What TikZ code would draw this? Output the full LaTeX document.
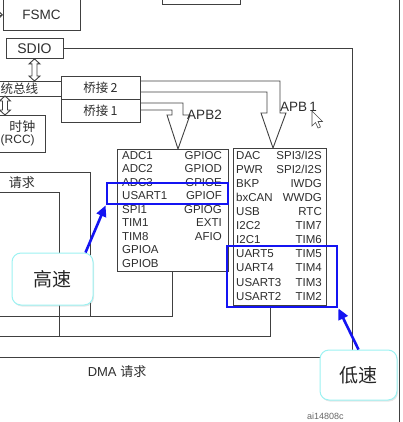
\documentclass[tikz,border=0pt]{standalone}
\usepackage{fontspec}
\setmainfont{Liberation Sans}
\newfontfamily\cjk{Noto Sans CJK SC}
\usepackage{xcolor}
\usetikzlibrary{arrows.meta,shadows,calc}
\definecolor{linegray}{HTML}{404040}
\definecolor{textgray}{HTML}{2E2E2E}
\definecolor{markblue}{HTML}{1414F2}
\definecolor{calloutcyan}{HTML}{9CF2F2}
\tikzset{
	wire/.style = {draw=linegray, line width=0.9pt},
	unitbox/.style = {draw=linegray, line width=0.9pt, fill=white, inner sep=0pt, text=textgray},
	regname/.style = {inner sep=0pt, text=textgray, font=\fontsize{11.5}{12}\selectfont},
	busname/.style = {inner sep=0pt, text=textgray, font=\fontsize{13}{14}\selectfont},
	markbox/.style = {draw=markblue, line width=2.8pt, inner sep=0pt},
	markarrow/.style = {draw=markblue, line width=2.6pt, -{Triangle[length=11pt,width=10pt]}},
	callout/.style = {draw=calloutcyan, line width=1pt, fill=white, rounded corners=9pt, inner sep=0pt,
		text=black!85, font=\cjk\fontsize{19}{20}\selectfont,
		drop shadow={opacity=0.2, shadow xshift=1pt, shadow yshift=-1.5pt}}
}
\newcommand{\hollowarrow}[2]{%
	\draw[wire, fill=white] (#1) -- ++(5.5,5) -- ++(-3,0) -- ($(#2)+(2.5,-5)$) -- ++(3,0) -- (#2)
		-- ++(-5.5,-5) -- ++(3,0) -- ($(#1)+(-2.5,5)$) -- ++(-3,0) -- cycle;}

\begin{document}
\begin{tikzpicture}[x=1pt, y=-1pt]
	\useasboundingbox (0,0) rectangle (402,422);
	\draw[wire] (162,-10) rectangle (240,4);
	\draw[wire] (399,-5) -- (399,427);

	\draw[wire] (3,-10) rectangle (80,30);
	\node[busname, font=\fontsize{13.5}{14}\selectfont] (fsmc) at (41.5,15) {FSMC};
	\coordinate (fsmcin) at (-6,15);
	\coordinate (fsmcleft) at (3,15);
	\draw[wire, -{Straight Barb[length=3pt]}] (fsmcin) -- (fsmcleft);

	\node[unitbox, minimum width=57pt, minimum height=20pt, font=\fontsize{14}{15}\selectfont] (sdio) at (34.5,48.5) {SDIO};
	\node[unitbox, minimum width=79pt, minimum height=23pt, font=\cjk\fontsize{12.5}{13}\selectfont] (bridgeB) at (100.5,87.5) {桥接\,2};
	\node[unitbox, minimum width=79pt, minimum height=23pt, font=\cjk\fontsize{12.5}{13}\selectfont] (bridgeA) at (100.5,110.5) {桥接\,1};

	\coordinate (busA) at (-5,81);
	\coordinate (busB) at (-5,96);
	\draw[wire] (busA) -- (bridgeB.west |- busA);
	\draw[wire] (busB) -- (bridgeB.west |- busB);
	\node[busname, anchor=west, font=\cjk\fontsize{12.5}{13}\selectfont] (sysbus) at (0.5,88.5) {统总线};

	\draw[wire] (-10,115) rectangle (45,152);
	\node[busname, anchor=east, font=\cjk\fontsize{13}{14}\selectfont] (rccA) at (35.5,127) {时钟};
	\node[busname, anchor=west, font=\fontsize{12}{13}\selectfont] (rccB) at (0.5,140.5) {(RCC)};
	\coordinate (rccbus) at (5,96);
	\coordinate (rcctop) at (5,115);
	\hollowarrow{sdio.south}{sdio.south |- busA}
	\hollowarrow{rccbus}{rcctop}

	\coordinate (apbtwoA) at (140,103);
	\coordinate (apbtwoB) at (140,110);
	\coordinate (apbtwotip) at (178,149);
	\draw[wire] (apbtwoA) -- (183,103) -- (183,115) -- (190,115) -- (apbtwotip) -- (167,115) -- (172,115) -- (172,110) -- (apbtwoB);
	\node[busname, font=\fontsize{13.5}{14}\selectfont] (apbtwolabel) at (204.5,115) {APB2};

	\coordinate (apboneA) at (140,81);
	\coordinate (apboneB) at (140,92);
	\coordinate (apbonetip) at (273,148);
	\draw[wire] (apboneA) -- (280,81) -- (280,113) -- (286,113) -- (apbonetip) -- (261,113) -- (267,113) -- (267,92) -- (apboneB);
	\node[busname, font=\fontsize{13.5}{14}\selectfont] (apbonelabel) at (298.5,107) {APB\,1};
	\draw[black!70, fill=white, line width=0.6pt] (312,111) -- (312,126) -- (315.5,122.5) -- (318,128) -- (320.5,127) -- (318,121.5) -- (322.5,121.5) -- cycle;

	\node[unitbox, minimum width=111pt, minimum height=122pt] (apbtwo) at (172.5,210) {};
	\node[unitbox, minimum width=93pt, minimum height=157pt] (apbone) at (279.5,226.5) {};

	\foreach \reg [count=\i] in {ADC1,ADC2,ADC3,USART1,SPI1,TIM1,TIM8,GPIOA,GPIOB}
		\node[regname, anchor=base west] (twoL\i) at (122,145.6+13.5*\i) {\reg};
	\foreach \reg [count=\i] in {GPIOC,GPIOD,GPIOE,GPIOF,GPIOG,EXTI,AFIO}
		\node[regname, anchor=base east] (twoR\i) at (222,145.6+13.5*\i) {\reg};
	\foreach \reg [count=\i] in {DAC,PWR,BKP,bxCAN,USB,I2C2,I2C1,UART5,UART4,USART3,USART2}
		\node[regname, anchor=base west] (oneL\i) at (236,145+14.1*\i) {\reg};
	\foreach \reg [count=\i] in {SPI3/I2S,SPI2/I2S,IWDG,WWDG,RTC,TIM7,TIM6,TIM5,TIM4,TIM3,TIM2}
		\node[regname, anchor=base east] (oneR\i) at (322,145+14.1*\i) {\reg};

	\coordinate (dmaA) at (-5,172);
	\coordinate (dmaB) at (-5,192);
	\coordinate (apbonedrop) at (270,305);
	\draw[wire] (dmaA) -- (90,172) -- (90,316);
	\draw[wire] (apbtwo.south) -- (172.5,316) -- (-5,316);
	\draw[wire] (dmaB) -- (59,192) -- (59,336);
	\draw[wire] (apbonedrop) -- (270,336) -- (-5,336);
	\draw[wire] (sdio.east) -- (352,48.5) -- (352,357) -- (-5,357);
	\node[busname] (dmalabel) at (117,372) {DMA {\cjk 请求}};
	\node[busname, anchor=east, font=\cjk\fontsize{13}{14}\selectfont] (dmaleft) at (35,183) {请求};
	\node[inner sep=0pt, anchor=base west, text=black!60, font=\fontsize{9}{10}\selectfont] (figid) at (307,419.5) {ai14808c};

	\node[markbox, minimum width=121pt, minimum height=21pt] (fastbox) at (167.5,193.5) {};
	\node[markbox, minimum width=110pt, minimum height=61pt] (slowbox) at (282,276.5) {};

	\node[callout, minimum width=81pt, minimum height=52pt] (fast) at (52.5,279) {高速};
	\node[callout, minimum width=77pt, minimum height=50pt] (slow) at (358.5,375) {低速};
	\draw[markarrow] ([xshift=-8pt]fast.north east) -- (fastbox.south west);
	\draw[markarrow] (slow.north) -- (slowbox.south east);
\end{tikzpicture}
\end{document}
